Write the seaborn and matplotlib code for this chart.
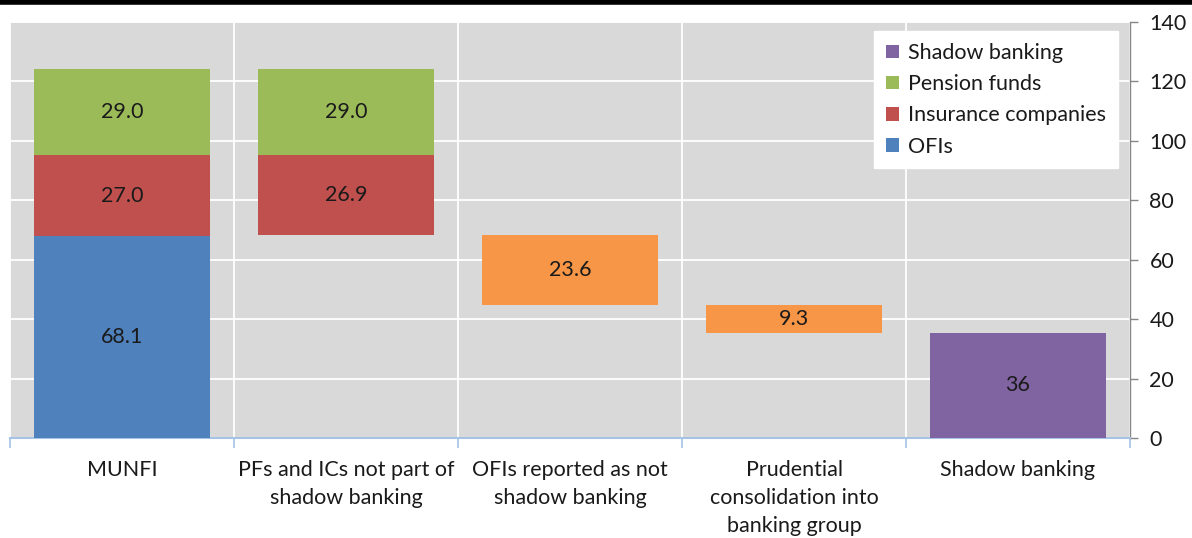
import matplotlib
matplotlib.use("Agg")
import matplotlib.pyplot as plt
import seaborn as sns
import pandas as pd
import numpy as np
from matplotlib.patches import Patch
from matplotlib.lines import Line2D

categories = ["MUNFI", "PFs and ICs not part of\nshadow banking",
              "OFIs reported as not\nshadow banking",
              "Prudential\nconsolidation into\nbanking group", "Shadow banking"]

ofi_vals = [68.1]
ins_vals = [27.0, 26.9]
pen_vals = [29.0, 29.0]
adj_vals = [23.6, 9.3]
sb_val = [35.4]
sb_labels = ["36"]

colors = {"OFIs": "#4F81BD", "Insurance companies": "#C0504D",
          "Pension funds": "#9BBB59", "Adjustment": "#F79646",
          "Shadow banking": "#8064A2"}

sns.set_theme(style="white")
plt.rcParams['font.family'] = ['Lato', 'DejaVu Sans']
txtc = "#1a1a1a"
FS = 15.5

fig = plt.figure(figsize=(11.92, 5.38), dpi=100)
ax = fig.add_axes([10/1192, (538-438)/538, 1120/1192, (438-22)/538])
ax.set_facecolor("#D9D9D9")

W = 0.79
pf_total = ofi_vals[0] + ins_vals[0] + pen_vals[0] - ins_vals[1] - pen_vals[1]
adj1_bottom = pf_total - adj_vals[0]
adj2_bottom = adj1_bottom - adj_vals[1]

segs = [
    ("OFIs", [categories[0]], ofi_vals, [0.0], ["68.1"]),
    ("Insurance companies", categories[0:2], ins_vals,
     [ofi_vals[0], pf_total], ["27.0", "26.9"]),
    ("Pension funds", categories[0:2], pen_vals,
     [ofi_vals[0] + ins_vals[0], pf_total + ins_vals[1]], ["29.0", "29.0"]),
    ("Adjustment", categories[2:4], adj_vals, [adj1_bottom, adj2_bottom], ["23.6", "9.3"]),
    ("Shadow banking", [categories[4]], sb_val, [0.0], sb_labels),
]

for name, cats, vals, bottoms, labels in segs:
    df = pd.DataFrame({"cat": cats, "val": vals})
    sns.barplot(data=df, x="cat", y="val", order=categories, color=colors[name],
                saturation=1, width=W, bottom=bottoms, ax=ax, zorder=3,
                linewidth=0, err_kws={"linewidth": 0})
    cont = ax.containers[-1]
    ax.bar_label(cont, labels=labels, label_type="center", fontsize=FS, color=txtc)

ax.set_xlim(-0.5, 4.5)
ax.set_ylim(0, 140)
ax.set_xlabel("")
ax.set_ylabel("")

ax.yaxis.tick_right()
ax.set_yticks(np.arange(0, 141, 20))
ax.tick_params(axis="y", which="major", right=True, left=False, length=6, width=1,
               color="#868686", labelsize=FS, labelcolor=txtc, pad=8)
ax.yaxis.grid(True, color="white", linewidth=1.3, zorder=0)
ax.set_axisbelow(True)

ax.set_xticks(range(5))
ax.set_xticklabels(categories, fontsize=FS, color=txtc, linespacing=1.48)
ax.tick_params(axis="x", which="major", length=0, pad=16)
ax.set_xticks(np.arange(-0.5, 4.6, 1), minor=True)
ax.tick_params(axis="x", which="minor", bottom=True, length=7, width=1.2, color="#A6C3E6")
ax.xaxis.grid(True, which="minor", color="white", linewidth=1.3)

for s in ["top", "left"]:
    ax.spines[s].set_visible(False)
ax.spines["bottom"].set_color("#A6C3E6")
ax.spines["bottom"].set_linewidth(1.5)
ax.spines["right"].set_color("#868686")
ax.spines["right"].set_linewidth(1)

names = ["Shadow banking", "Pension funds", "Insurance companies", "OFIs"]
handles = [Patch(facecolor=colors[k], edgecolor="none") for k in names]
leg = ax.legend(handles, names,
                loc="upper right", bbox_to_anchor=(0.989, 0.978), fontsize=FS,
                frameon=True, fancybox=False, framealpha=1, edgecolor="white",
                handlelength=0.6, handleheight=0.6, handletextpad=0.42,
                labelspacing=0.52, borderpad=0.55, borderaxespad=0)
leg.get_frame().set_facecolor("white")
for t in leg.get_texts():
    t.set_color(txtc)

fig.add_artist(Line2D([0, 1], [0.997, 0.997], color="black", linewidth=4,
                      transform=fig.transFigure))

fig.savefig("out.png", dpi=100, facecolor="white")
